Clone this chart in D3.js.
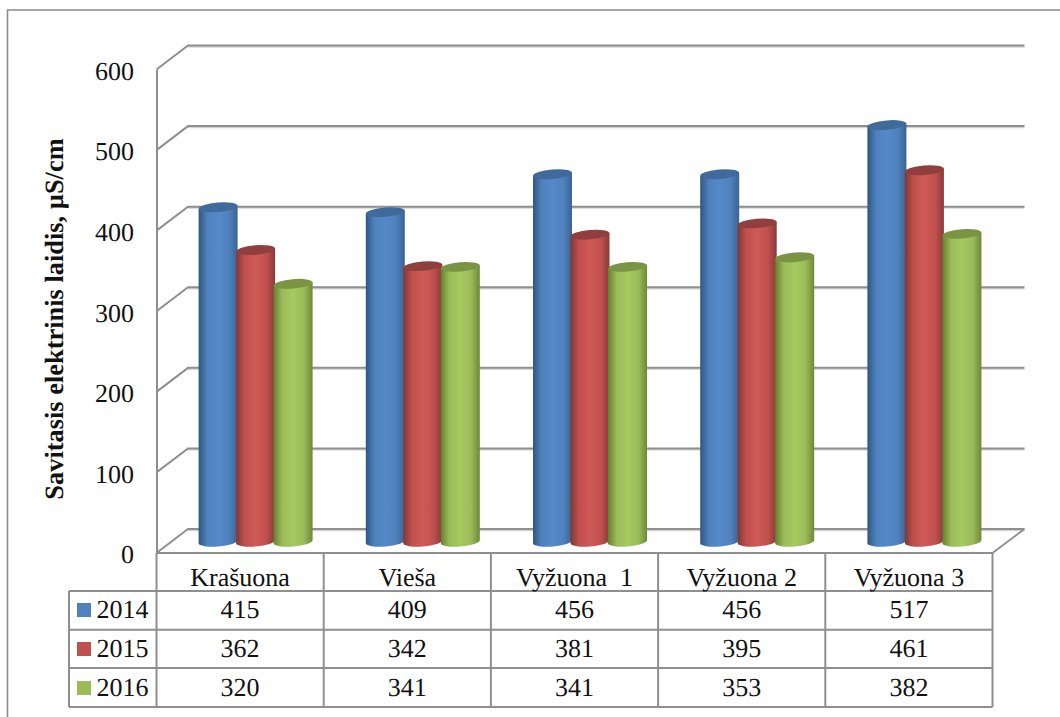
<!DOCTYPE html>
<html>
<head>
<meta charset="utf-8">
<script src="https://cdn.jsdelivr.net/npm/d3@7/dist/d3.min.js"></script>
<style>
html,body{margin:0;padding:0;background:#fff;overflow:hidden}
svg{display:block}
text{font-family:"Liberation Serif","Times New Roman",serif;fill:#111;text-rendering:geometricPrecision}
</style>
</head>
<body>
<svg id="chart" width="1060" height="717"></svg>
<script>
const categories = ["Krašuona", "Vieša", "Vyžuona  1", "Vyžuona 2", "Vyžuona 3"];
const years = ["2014", "2015", "2016"];
const values2014 = [415, 409, 456, 456, 517];
const values2015 = [362, 342, 381, 395, 461];
const values2016 = [320, 341, 341, 353, 382];
const yTicks = [0, 100, 200, 300, 400, 500, 600];
const yTitle = "Savitasis elektrinis laidis, µS/cm";

const seriesValues = [values2014, values2015, values2016];
const palette = [
  {key:"#4f81bd", edgeL:"#2f5682", mid:"#5589c9", edgeR:"#3a6492", cap:"#3f6a9b"},
  {key:"#c0504d", edgeL:"#7f3836", mid:"#cf5a57", edgeR:"#873b39", cap:"#8f3f3d"},
  {key:"#9bbb59", edgeL:"#66802f", mid:"#a6c961", edgeR:"#6d8838", cap:"#7a9443"}
];

const svg = d3.select("#chart");
const gridColor = "#8f8f8f";

// Oblique projection: the back wall sits up and to the right of the front plane
const depthX = 32, depthY = 24;
const x = d3.scaleBand().domain(categories).range([156.5, 992.5]);
const yFront = d3.scaleLinear().domain([0, 600]).range([553, 69.5]);
const yBack = yFront.copy().range([553 - depthY, 69.5 - depthY]);
const yBar = yFront.copy().range([541.7, 58.2]);
const barOffset = 15.5, barStep = 37.5, barRx = 19.5, barRy = 4.7, tilt = 1.6;

// Outer frame, open on the right and at the bottom
svg.append("path")
  .attr("d", "M1060 10H7.5V717")
  .attr("fill", "none").attr("stroke", "#8c8c8c").attr("stroke-width", 1.6);

// Gradients that give each cylinder its rounded look
const defs = svg.append("defs");
palette.forEach((c, i) => {
  const g = defs.append("linearGradient").attr("id", "cyl" + i)
    .attr("x1", 0).attr("x2", 1).attr("y1", 0).attr("y2", 0);
  [[0, c.edgeL], [0.22, c.key], [0.5, c.mid], [0.78, c.key], [1, c.edgeR]]
    .forEach(s => g.append("stop").attr("offset", s[0]).attr("stop-color", s[1]));
});

// Back wall gridlines with their soft shadow, plus the side wall diagonals
const grid = svg.append("g").attr("fill", "none");
const xBackL = x.range()[0] + depthX - 0.5, xBackR = x.range()[1] + depthX;
yTicks.forEach(t => {
  const yb = yBack(t);
  grid.append("path").attr("d", `M${xBackL} ${yb + 1.4}H${xBackR}`)
    .attr("stroke", "#d4d4d4").attr("stroke-width", 1.6);
  grid.append("path").attr("d", `M${x.range()[0]} ${yFront(t)}L${xBackL} ${yb}H${xBackR}`)
    .attr("stroke", gridColor).attr("stroke-width", 2);
});

// Floor edge on the right
grid.append("path")
  .attr("d", `M${xBackR} ${yBack(0)}L${x.range()[1]} ${yFront(0)}`)
  .attr("stroke", gridColor).attr("stroke-width", 2);

// Value axis
const axis = svg.append("g")
  .attr("transform", `translate(${x.range()[0]},0)`)
  .call(d3.axisLeft(yFront).tickValues(yTicks).tickSize(0).tickPadding(22.5).tickFormat(d3.format("d")));
axis.select(".domain").attr("stroke", gridColor).attr("stroke-width", 2);
axis.selectAll("text")
  .attr("font-size", 26)
  .attr("font-family", '"Liberation Serif"')
  .attr("fill", "#111")
  .attr("dy", 9.8);

svg.append("text")
  .attr("transform", "translate(62.5,319) rotate(-90)")
  .attr("text-anchor", "middle")
  .attr("font-size", 26.4)
  .attr("font-weight", "bold")
  .text(yTitle);

// Cylinders, drawn left to right so each overlaps its neighbour
const bars = svg.append("g");
categories.forEach((cat, ci) => {
  const centre = x(cat) + x.bandwidth() / 2 + barOffset;
  seriesValues.forEach((vals, si) => {
    const cx = centre + (si - 1) * barStep;
    const l = cx - barRx, r = cx + barRx;
    const top = yBar(vals[ci]), base = yBar(0);
    const rot = -Math.atan2(2 * tilt, 2 * barRx) * 180 / Math.PI;
    bars.append("path")
      .attr("d", `M${l} ${top + tilt}L${l} ${base + tilt}` +
                 `A${barRx} ${barRy} ${rot} 0 0 ${r} ${base - tilt}` +
                 `L${r} ${top - tilt}Z`)
      .attr("fill", `url(#cyl${si})`);
    bars.append("ellipse")
      .attr("cx", cx).attr("cy", top)
      .attr("rx", barRx).attr("ry", barRy)
      .attr("transform", `rotate(${rot} ${cx} ${top})`)
      .attr("fill", palette[si].cap);
  });
});

// Data table under the plot
const rowEdges = [553, 591, 629.7, 668, 707];
const tableLeft = 69;
const table = svg.append("g").attr("fill", "none").attr("stroke", gridColor).attr("stroke-width", 2);
rowEdges.slice(1).forEach(y => table.append("path").attr("d", `M${tableLeft} ${y}H${x.range()[1]}`));
table.append("path").attr("d", `M${x.range()[0]} ${rowEdges[0]}H${x.range()[1]}`);
table.append("path").attr("d", `M${tableLeft} ${rowEdges[1]}V${rowEdges[4]}`);
x.domain().forEach(c => table.append("path")
  .attr("d", `M${x(c)} ${rowEdges[0]}V${rowEdges[4]}`));
table.append("path").attr("d", `M${x.range()[1]} ${rowEdges[0]}V${rowEdges[4]}`);

const cells = svg.append("g").attr("font-size", 26);
categories.forEach(cat => {
  cells.append("text")
    .attr("x", x(cat) + x.bandwidth() / 2).attr("y", 586)
    .attr("text-anchor", "middle")
    .attr("xml:space", "preserve").style("white-space", "pre")
    .attr("font-size", 26)
    .text(cat);
});
const rowBaselines = [618, 657, 696];
seriesValues.forEach((vals, si) => {
  cells.append("rect")
    .attr("x", 77).attr("width", 14)
    .attr("y", rowBaselines[si] - 15).attr("height", 14)
    .attr("fill", palette[si].key);
  cells.append("text").attr("x", 96.5).attr("y", rowBaselines[si]).text(years[si]);
  vals.forEach((v, ci) => {
    cells.append("text")
      .attr("x", x(categories[ci]) + x.bandwidth() / 2)
      .attr("y", rowBaselines[si])
      .attr("text-anchor", "middle")
      .text(v);
  });
});
</script>
</body>
</html>
